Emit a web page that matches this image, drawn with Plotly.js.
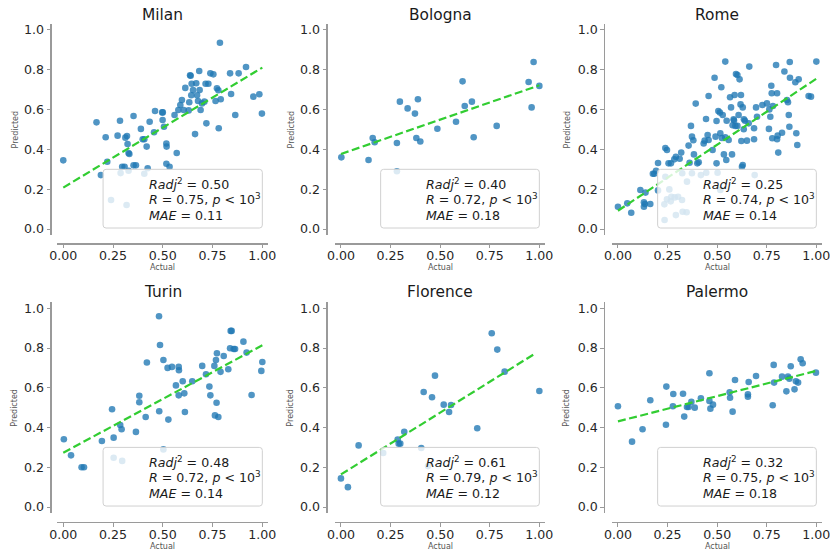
<!DOCTYPE html>
<html>
<head>
<meta charset="utf-8">
<script src="https://cdn.plot.ly/plotly-3.0.1.min.js"></script>
<style>html,body{margin:0;padding:0;background:#fff;}#chart{width:830px;height:552px;}</style>
</head>
<body>
<div id="chart"></div>
<script>
// ---------------- data ----------------
const cities = ['Milan', 'Bologna', 'Rome', 'Turin', 'Florence', 'Palermo'];

const milanX = [0.000,0.167,0.189,0.213,0.221,0.273,0.285,0.288,0.296,0.308,
  0.312,0.320,0.323,0.328,0.332,0.328,0.353,0.353,0.365,0.390,
  0.399,0.407,0.407,0.419,0.424,0.434,0.456,0.461,0.497,0.500,
  0.499,0.506,0.518,0.519,0.518,0.534,0.559,0.570,0.578,0.588,
  0.596,0.605,0.613,0.630,0.633,0.637,0.640,0.643,0.645,0.652,
  0.662,0.668,0.672,0.677,0.683,0.685,0.690,0.697,0.709,0.715,
  0.719,0.729,0.739,0.754,0.765,0.772,0.779,0.781,0.787,0.791,
  0.838,0.843,0.864,0.881,0.918,0.955,0.985,0.998,0.240,0.318];
const milanY = [0.345,0.536,0.271,0.461,0.338,0.469,0.544,0.281,0.313,0.313,
  0.459,0.467,0.427,0.382,0.377,0.293,0.568,0.320,0.320,0.503,
  0.451,0.451,0.278,0.414,0.305,0.539,0.486,0.593,0.586,0.586,
  0.548,0.514,0.430,0.414,0.328,0.313,0.573,0.382,0.598,0.623,
  0.648,0.598,0.709,0.596,0.637,0.772,0.770,0.672,0.730,0.698,
  0.477,0.732,0.672,0.643,0.794,0.698,0.598,0.631,0.640,0.730,
  0.531,0.730,0.782,0.777,0.643,0.707,0.697,0.506,0.936,0.652,
  0.782,0.678,0.573,0.782,0.814,0.665,0.677,0.580,0.146,0.121];

const bolognaX = [0.002,0.139,0.160,0.170,0.282,0.282,0.297,0.336,0.373,0.380,
  0.388,0.400,0.486,0.580,0.613,0.624,0.660,0.669,0.785,0.946,
  0.961,0.971,1.000];
const bolognaY = [0.360,0.347,0.457,0.436,0.432,0.290,0.640,0.606,0.580,0.457,
  0.652,0.440,0.504,0.539,0.742,0.618,0.640,0.461,0.518,0.739,
  0.611,0.839,0.719];

const romeX = [0.000,0.047,0.067,0.113,0.131,0.131,0.136,0.139,0.163,0.176,
  0.183,0.192,0.202,0.202,0.239,0.247,0.255,0.267,0.284,0.292,
  0.311,0.319,0.324,0.356,0.361,0.368,0.373,0.380,0.383,0.392,
  0.400,0.407,0.432,0.437,0.444,0.452,0.457,0.457,0.477,0.487,
  0.492,0.497,0.497,0.506,0.514,0.516,0.521,0.524,0.528,0.534,
  0.541,0.541,0.548,0.546,0.558,0.565,0.570,0.575,0.578,0.583,
  0.585,0.588,0.592,0.595,0.602,0.608,0.602,0.613,0.618,0.620,
  0.622,0.625,0.629,0.629,0.634,0.635,0.640,0.650,0.659,0.662,
  0.686,0.686,0.696,0.701,0.728,0.751,0.761,0.763,0.768,0.773,
  0.775,0.778,0.781,0.797,0.802,0.802,0.805,0.808,0.827,0.839,
  0.852,0.857,0.861,0.864,0.866,0.867,0.894,0.911,0.899,0.904,
  0.961,0.973,1.000,0.235,0.234,0.247,0.266,0.269,0.286,0.303,
  0.323,0.292,0.326,0.346,0.348,0.373,0.418,0.445,0.502,0.516,
  0.689,0.239,0.259];
const romeY = [0.112,0.129,0.082,0.196,0.112,0.134,0.126,0.183,0.126,0.278,
  0.278,0.293,0.332,0.194,0.407,0.397,0.330,0.330,0.350,0.363,
  0.353,0.384,0.280,0.419,0.333,0.518,0.464,0.446,0.375,0.630,
  0.330,0.335,0.430,0.444,0.553,0.472,0.668,0.447,0.397,0.760,
  0.464,0.543,0.330,0.593,0.585,0.481,0.712,0.457,0.573,0.375,
  0.841,0.461,0.544,0.347,0.447,0.662,0.611,0.375,0.521,0.551,
  0.545,0.673,0.518,0.779,0.774,0.573,0.518,0.752,0.626,0.673,
  0.442,0.313,0.611,0.322,0.501,0.551,0.544,0.444,0.531,0.816,
  0.506,0.451,0.611,0.564,0.623,0.631,0.503,0.601,0.564,0.720,
  0.682,0.456,0.618,0.824,0.682,0.451,0.469,0.384,0.484,0.791,
  0.648,0.637,0.573,0.514,0.839,0.760,0.737,0.752,0.481,0.422,
  0.668,0.665,0.841,0.045,0.124,0.149,0.139,0.162,0.159,0.162,
  0.146,0.070,0.087,0.084,0.238,0.280,0.271,0.283,0.283,0.196,
  0.271,0.263,0.199];

const turinX = [0.003,0.039,0.092,0.104,0.194,0.245,0.253,0.253,0.286,0.293,
  0.296,0.365,0.382,0.382,0.414,0.420,0.481,0.482,0.486,0.503,
  0.503,0.524,0.528,0.546,0.566,0.580,0.581,0.580,0.600,0.608,
  0.611,0.648,0.698,0.717,0.734,0.739,0.759,0.762,0.767,0.772,
  0.770,0.779,0.790,0.806,0.829,0.838,0.841,0.846,0.856,0.863,
  0.905,0.921,0.946,0.995,1.000];
const turinY = [0.341,0.260,0.200,0.200,0.332,0.492,0.349,0.248,0.413,0.391,
  0.232,0.378,0.560,0.527,0.453,0.727,0.960,0.482,0.815,0.740,
  0.290,0.700,0.440,0.705,0.612,0.705,0.688,0.562,0.633,0.572,
  0.478,0.633,0.710,0.668,0.606,0.562,0.710,0.461,0.740,0.774,
  0.525,0.453,0.680,0.760,0.693,0.799,0.886,0.886,0.795,0.795,
  0.832,0.777,0.564,0.685,0.730];

const florenceX = [0.000,0.035,0.089,0.213,0.286,0.291,0.299,0.319,0.405,0.417,
  0.439,0.459,0.474,0.518,0.545,0.555,0.687,0.760,0.788,0.825,1.000];
const florenceY = [0.144,0.100,0.310,0.272,0.340,0.319,0.319,0.379,0.297,0.579,
  0.206,0.552,0.661,0.515,0.478,0.513,0.396,0.874,0.792,0.681,0.584];

const palermoX = [0.000,0.071,0.124,0.163,0.242,0.244,0.277,0.279,0.328,0.334,
  0.348,0.356,0.370,0.387,0.418,0.461,0.461,0.466,0.479,0.563,
  0.565,0.578,0.590,0.655,0.655,0.659,0.696,0.780,0.785,0.787,
  0.827,0.849,0.857,0.864,0.871,0.890,0.897,0.908,0.921,0.931,0.998];
const palermoY = [0.507,0.329,0.391,0.537,0.414,0.606,0.507,0.569,0.570,0.455,
  0.503,0.503,0.529,0.500,0.547,0.673,0.534,0.495,0.515,0.577,
  0.550,0.480,0.639,0.555,0.567,0.629,0.659,0.512,0.715,0.626,
  0.656,0.582,0.656,0.646,0.708,0.592,0.633,0.626,0.743,0.723,0.676];

// fitted regression line end points
const fitX = [[0, 1], [0, 1], [0, 1], [0, 1], [0, 0.98], [0, 1]];
const fitY = [[0.208, 0.811], [0.377, 0.722], [0.092, 0.755], [0.273, 0.814], [0.164, 0.773], [0.431, 0.685]];

// statistics
const radj2 = ['0.50', '0.40', '0.25', '0.48', '0.61', '0.32'];
const rVals = ['0.75', '0.72', '0.74', '0.72', '0.79', '0.75'];
const maeVals = ['0.11', '0.18', '0.14', '0.14', '0.12', '0.18'];

const xTickVals = [0, 0.25, 0.5, 0.75, 1];
const xTickLabels = ['0.00', '0.25', '0.50', '0.75', '1.00'];
const yTickVals = [0, 0.2, 0.4, 0.6, 0.8, 1.0];
const yTickLabels = ['0.0', '0.2', '0.4', '0.6', '0.8', '1.0'];

const xLabel = 'Actual';
const yLabel = 'Predicted';

// ---------------- layout ----------------
const W = 830, H = 552;
const FONT = 'DejaVu Sans, Liberation Sans, sans-serif';
const allX = [milanX, bolognaX, romeX, turinX, florenceX, palermoX];
const allY = [milanY, bolognaY, romeY, turinY, florenceY, palermoY];

const colDom = [[57.3, 268.3], [335.0, 545.3], [612.0, 822.3]];
const rowDom = [[24, 235], [302.3, 513]];
const ySpineX = [50, 326, 603.7];
const xSpineY = [243.3, 521.7];
const titleY = [15, 292];
const xLabY = [268, 546];
const yLabX = [15, 291, 567];

const spineColor = '#9a9a9a';
const traces = [];
const layout = {
  width: W, height: H,
  margin: {l: 0, r: 0, t: 0, b: 0},
  paper_bgcolor: '#ffffff', plot_bgcolor: 'rgba(0,0,0,0)',
  showlegend: false,
  font: {family: FONT, color: '#262626'},
  shapes: [], annotations: []
};

for (let i = 0; i < 6; i++) {
  const col = i % 3, row = Math.floor(i / 3);
  const sfx = i === 0 ? '' : String(i + 1);
  const xa = 'x' + sfx, ya = 'y' + sfx;

  layout['xaxis' + sfx] = {
    domain: [colDom[col][0] / W, colDom[col][1] / W],
    range: [-0.03, 1.03],
    anchor: 'free', position: 1 - xSpineY[row] / H,
    showline: true, linecolor: spineColor, linewidth: 1.5,
    ticks: 'outside', ticklen: 3.5, tickwidth: 1, tickcolor: spineColor,
    tickvals: xTickVals, ticktext: xTickLabels,
    ticklabeloverflow: 'allow', ticklabelstandoff: -3,
    tickfont: {family: FONT, size: 12.6, color: '#262626'},
    showgrid: false, zeroline: false
  };
  layout['yaxis' + sfx] = {
    domain: [1 - rowDom[row][1] / H, 1 - rowDom[row][0] / H],
    range: [-0.03, 1.03],
    anchor: 'free', position: ySpineX[col] / W,
    showline: true, linecolor: spineColor, linewidth: 1.5,
    ticks: 'outside', ticklen: 3.5, tickwidth: 1, tickcolor: spineColor,
    tickvals: yTickVals, ticktext: yTickLabels,
    ticklabeloverflow: 'allow',
    tickfont: {family: FONT, size: 12.6, color: '#262626'},
    showgrid: false, zeroline: false
  };

  traces.push({
    type: 'scatter', mode: 'markers', x: allX[i], y: allY[i],
    xaxis: xa, yaxis: ya,
    marker: {color: '#1f77b4', opacity: 0.78, size: 6.6, line: {width: 0}},
    hoverinfo: 'skip'
  });
  traces.push({
    type: 'scatter', mode: 'lines', x: fitX[i], y: fitY[i],
    xaxis: xa, yaxis: ya,
    line: {color: '#32cd32', width: 2.2, dash: '8px,3.5px'},
    hoverinfo: 'skip'
  });

  // rounded stats box (data coordinates)
  const x0 = 0.2, x1 = 1.0, y0 = 0.005, y1 = 0.30, r = 0.015;
  const path = `M ${x0 + r},${y0} L ${x1 - r},${y0} Q ${x1},${y0} ${x1},${y0 + r} ` +
    `L ${x1},${y1 - r} Q ${x1},${y1} ${x1 - r},${y1} L ${x0 + r},${y1} ` +
    `Q ${x0},${y1} ${x0},${y1 - r} L ${x0},${y0 + r} Q ${x0},${y0} ${x0 + r},${y0} Z`;
  layout.shapes.push({
    type: 'path', path: path, xref: xa, yref: ya, layer: 'above',
    fillcolor: 'rgba(255,255,255,0.8)', line: {color: '#d0d0d0', width: 1}
  });

  const statLines = [
    `<i>Radj</i><sup>2</sup> = ${radj2[i]}`,
    `<i>R</i> = ${rVals[i]}, <i>p</i> &lt; 10<sup>3</sup>`,
    `<i>MAE</i> = ${maeVals[i]}`
  ];
  const lineY = [0.228, 0.151, 0.070];
  statLines.forEach((t, k) => {
    layout.annotations.push({
      text: t, xref: xa, yref: ya, x: 0.42, y: lineY[k],
      xanchor: 'left', yanchor: 'middle', showarrow: false,
      font: {family: FONT, size: 12.6, color: '#1a1a1a'}
    });
  });

  // title
  layout.annotations.push({
    text: cities[i], xref: xa, yref: 'paper', x: 0.5, y: 1 - titleY[row] / H,
    xanchor: 'center', yanchor: 'middle', showarrow: false,
    font: {family: FONT, size: 15.4, color: '#1a1a1a'}
  });
  // axis labels
  layout.annotations.push({
    text: xLabel, xref: xa, yref: 'paper', x: 0.5, y: 1 - xLabY[row] / H,
    xanchor: 'center', yanchor: 'middle', showarrow: false,
    font: {family: FONT, size: 8, color: '#555555'}
  });
  layout.annotations.push({
    text: yLabel, xref: 'paper', yref: 'paper', x: yLabX[col] / W,
    y: 1 - (rowDom[row][0] + rowDom[row][1]) / 2 / H,
    xanchor: 'center', yanchor: 'middle', textangle: -90, showarrow: false,
    font: {family: FONT, size: 8, color: '#555555'}
  });
}

Plotly.newPlot('chart', traces, layout, {displayModeBar: false, staticPlot: true});
</script>
</body>
</html>
